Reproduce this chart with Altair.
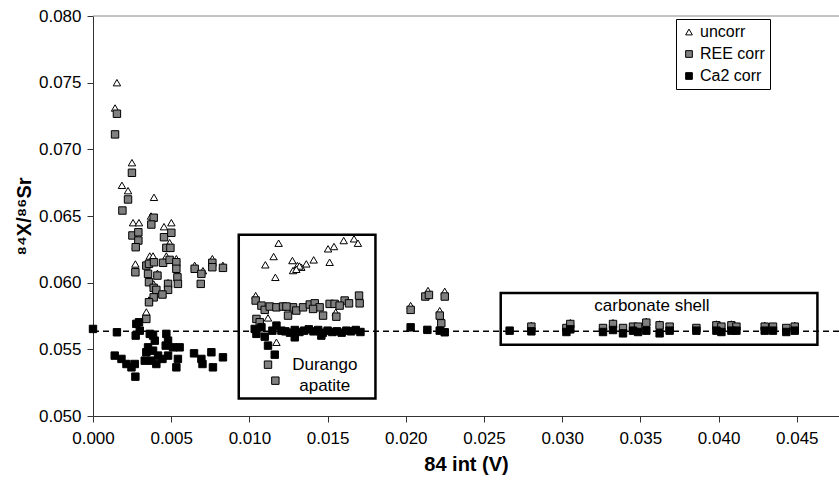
import altair as alt
import pandas as pd

# ---- data ----
unc_x = [0.00153, 0.00141, 0.00249, 0.00185, 0.00224, 0.00390, 0.00371, 0.00256, 0.00294, 0.00501,
         0.00454, 0.00490, 0.00271, 0.00341, 0.00363, 0.00384, 0.00650, 0.00763, 0.00831, 0.00703,
         0.00533, 0.00469, 0.00273, 0.00412, 0.00388, 0.00480, 0.00358, 0.00444,
         0.01102, 0.01155, 0.01187, 0.01166, 0.01275, 0.01279, 0.01307, 0.01332, 0.01364, 0.01411,
         0.01503, 0.01513, 0.01541, 0.01603, 0.01669, 0.01694, 0.01552, 0.01040, 0.01119, 0.01173,
         0.01320, 0.01300,
         0.02031, 0.02142, 0.02249, 0.02217,
         0.02803, 0.03052, 0.03325, 0.03538, 0.03623, 0.03986, 0.04082, 0.04295, 0.04487]
unc_y = [0.07500, 0.07310, 0.06900, 0.06730, 0.06690, 0.06640, 0.06500, 0.06450, 0.06450, 0.06450,
         0.06420, 0.06300, 0.06140, 0.05780, 0.06200, 0.06200, 0.06130, 0.06180, 0.06130, 0.06090,
         0.06180, 0.06200, 0.06280, 0.06070, 0.05990, 0.06000, 0.05870, 0.05920,
         0.06134, 0.06196, 0.06296, 0.06040, 0.06166, 0.06091, 0.06128, 0.06116, 0.06141, 0.06171,
         0.06254, 0.06153, 0.06271, 0.06316, 0.06329, 0.06296, 0.05778, 0.05903, 0.05736, 0.05553,
         0.06125, 0.06100,
         0.05828, 0.05941, 0.05935, 0.05790,
         0.05680, 0.05700, 0.05700, 0.05710, 0.05690, 0.05690, 0.05690, 0.05680, 0.05680]

ree_x = [0.00153, 0.00141, 0.00249, 0.00224, 0.00188, 0.00388, 0.00373, 0.00252, 0.00290, 0.00290,
         0.00454, 0.00501, 0.00273, 0.00469, 0.00495, 0.00271, 0.00341, 0.00358, 0.00390, 0.00448,
         0.00490, 0.00533, 0.00533, 0.00540, 0.00543, 0.00480, 0.00412, 0.00352, 0.00358, 0.00388,
         0.00405, 0.00480, 0.00444, 0.00388, 0.00358, 0.00341, 0.00650, 0.00693, 0.00689, 0.00763,
         0.00763, 0.00831,
         0.01040, 0.01077, 0.01098, 0.01130, 0.01173, 0.01215, 0.01247, 0.01279, 0.01300, 0.01343,
         0.01386, 0.01418, 0.01449, 0.01471, 0.01513, 0.01545, 0.01556, 0.01609, 0.01637, 0.01701,
         0.01705, 0.01045, 0.01066, 0.01119, 0.01166, 0.01577, 0.01407, 0.01237,
         0.02031, 0.02125, 0.02148, 0.02249, 0.02217, 0.02227,
         0.02803, 0.03027, 0.03052, 0.03261, 0.03325, 0.03389, 0.03453, 0.03485, 0.03538, 0.03623,
         0.03687, 0.03858, 0.03986, 0.04018, 0.04082, 0.04114, 0.04295, 0.04348, 0.04433, 0.04487]
ree_y = [0.07267, 0.07112, 0.06824, 0.06624, 0.06541, 0.06487, 0.06436, 0.06354, 0.06378, 0.06316,
         0.06341, 0.06374, 0.06266, 0.06261, 0.06261, 0.06078, 0.06128, 0.06141, 0.06153, 0.06149,
         0.06171, 0.06153, 0.06104, 0.06040, 0.05991, 0.05991, 0.06053, 0.06066, 0.06003, 0.05961,
         0.05946, 0.05946, 0.05911, 0.05890, 0.05853, 0.05728, 0.06104, 0.06066, 0.05991, 0.06149,
         0.06116, 0.06111,
         0.05866, 0.05828, 0.05796, 0.05821, 0.05815, 0.05821, 0.05753, 0.05815, 0.05791, 0.05815,
         0.05836, 0.05845, 0.05815, 0.05753, 0.05841, 0.05841, 0.05745, 0.05866, 0.05845, 0.05903,
         0.05845, 0.05728, 0.05703, 0.05385, 0.05265, 0.05828, 0.05803, 0.05821,
         0.05796, 0.05896, 0.05908, 0.05896, 0.05753, 0.05695,
         0.05670, 0.05660, 0.05690, 0.05660, 0.05690, 0.05660, 0.05670, 0.05670, 0.05700, 0.05680,
         0.05670, 0.05660, 0.05680, 0.05670, 0.05680, 0.05670, 0.05670, 0.05670, 0.05660, 0.05670]

ca_x = [0.00000, 0.00153, 0.00139, 0.00182, 0.00214, 0.00246, 0.00267, 0.00271, 0.00277, 0.00294,
        0.00273, 0.00299, 0.00363, 0.00384, 0.00395, 0.00352, 0.00341, 0.00331, 0.00373, 0.00405,
        0.00384, 0.00416, 0.00444, 0.00469, 0.00480, 0.00465, 0.00480, 0.00512, 0.00554, 0.00543,
        0.00533, 0.00646, 0.00693, 0.00700, 0.00757, 0.00767, 0.00831,
        0.01034, 0.01045, 0.01077, 0.01098, 0.01119, 0.01147, 0.01162, 0.01173, 0.01205,
        0.01230, 0.01260, 0.01290, 0.01320, 0.01350, 0.01380, 0.01410, 0.01440, 0.01470, 0.01500,
        0.01530, 0.01560, 0.01590, 0.01620, 0.01650, 0.01680, 0.01710, 0.01290, 0.01460,
        0.02031, 0.02138, 0.02217, 0.02249,
        0.02664, 0.02803, 0.03027, 0.03052, 0.03261, 0.03325, 0.03389, 0.03453, 0.03485, 0.03538,
        0.03623, 0.03687, 0.03858, 0.03986, 0.04018, 0.04082, 0.04114, 0.04295, 0.04348, 0.04433,
        0.04487]
ca_y = [0.05653, 0.05628, 0.05453, 0.05428, 0.05390, 0.05365, 0.05390, 0.05295, 0.05691, 0.05703,
        0.05603, 0.05640, 0.05616, 0.05603, 0.05565, 0.05515, 0.05478, 0.05415, 0.05415, 0.05390,
        0.05490, 0.05453, 0.05428, 0.05616, 0.05565, 0.05528, 0.05453, 0.05515, 0.05515, 0.05428,
        0.05365, 0.05470, 0.05428, 0.05390, 0.05478, 0.05365, 0.05440,
        0.05653, 0.05616, 0.05665, 0.05595, 0.05528, 0.05640, 0.05460, 0.05678, 0.05640,
        0.05635, 0.05625, 0.05645, 0.05630, 0.05640, 0.05650, 0.05635, 0.05645, 0.05625, 0.05640,
        0.05630, 0.05635, 0.05625, 0.05640, 0.05635, 0.05645, 0.05630, 0.05590, 0.05603,
        0.05665, 0.05646, 0.05640, 0.05628,
        0.05640, 0.05635, 0.05630, 0.05650, 0.05630, 0.05645, 0.05620, 0.05640, 0.05630, 0.05640,
        0.05620, 0.05640, 0.05640, 0.05640, 0.05630, 0.05640, 0.05640, 0.05640, 0.05640, 0.05630,
        0.05640]

series_names = ["uncorr", "REE corr", "Ca2 corr"]
series_fill = ["white", "#808080", "black"]
series_stroke = ["black", "black", "black"]
series_shape = ["triangle-up", "square", "square"]

ref_value = [0.05635]

box_x1 = [0.00932, 0.02607]
box_x2 = [0.01806, 0.04632]
box_y1 = [0.05132, 0.05535]
box_y2 = [0.06359, 0.05923]

note_text = ["Durango", "apatite", "carbonate shell"]
note_x = [0.01482, 0.01482, 0.03574]
note_y = [0.05383, 0.05227, 0.05828]

x_ticks = [0.0, 0.005, 0.010, 0.015, 0.020, 0.025, 0.030, 0.035, 0.040, 0.045]
y_ticks = [0.050, 0.055, 0.060, 0.065, 0.070, 0.075, 0.080]
x_domain = [0.0, 0.0477]
y_domain = [0.050, 0.080]

# ---- tables ----
pts = pd.concat([
    pd.DataFrame({"x": unc_x, "y": unc_y, "s": series_names[0], "o": 0}),
    pd.DataFrame({"x": ree_x, "y": ree_y, "s": series_names[1], "o": 1}),
    pd.DataFrame({"x": ca_x, "y": ca_y, "s": series_names[2], "o": 2}),
], ignore_index=True)
boxes = pd.DataFrame({"x1": box_x1, "x2": box_x2, "y1": box_y1, "y2": box_y2})
notes = pd.DataFrame({"t": note_text, "x": note_x, "y": note_y})
ref = pd.DataFrame({"y": ref_value})

FONT = "Liberation Sans"

xs = alt.Scale(domain=x_domain, nice=False, zero=False)
ys = alt.Scale(domain=y_domain, nice=False, zero=False)

top_line = alt.Chart(ref).mark_rule(color="#888888", strokeWidth=1).encode(y=alt.value(0))

dash = alt.Chart(ref).mark_rule(color="black", strokeWidth=1.5, strokeDash=[6, 4]).encode(
    y=alt.Y("y:Q", scale=ys)
)

points = alt.Chart(pts).mark_point(filled=True, strokeWidth=1, opacity=1).encode(
    x=alt.X("x:Q", scale=xs, axis=alt.Axis(values=x_ticks, format=".3f", title="84 int (V)",
                                           labelFlush=False)),
    y=alt.Y("y:Q", scale=ys, axis=alt.Axis(values=y_ticks, format=".3f", title="⁸⁴X/⁸⁶Sr",
                                           labelFlush=False)),
    fill=alt.Fill("s:N", scale=alt.Scale(domain=series_names, range=series_fill),
                  legend=alt.Legend(title=None)),
    stroke=alt.Stroke("s:N", scale=alt.Scale(domain=series_names, range=series_stroke),
                      legend=alt.Legend(title=None)),
    shape=alt.Shape("s:N", scale=alt.Scale(domain=series_names, range=series_shape),
                    legend=alt.Legend(title=None)),
    size=alt.value(55),
    order=alt.Order("o:Q"),
)

rects = alt.Chart(boxes).mark_rect(fillOpacity=0, stroke="black", strokeWidth=2.5).encode(
    x=alt.X("x1:Q", scale=xs), x2="x2:Q", y=alt.Y("y1:Q", scale=ys), y2="y2:Q"
)

texts = alt.Chart(notes).mark_text(font=FONT, fontSize=17, color="black", align="center",
                                   baseline="middle").encode(
    x=alt.X("x:Q", scale=xs), y=alt.Y("y:Q", scale=ys), text="t:N"
)

chart = alt.layer(top_line, dash, rects, points, texts).properties(
    width=746, height=400,
    padding={"left": 93, "top": 16, "right": 0, "bottom": 69},
    autosize=alt.AutoSizeParams(type="none"),
    background="white",
).configure_view(stroke=None).configure_axis(
    grid=False,
    domainColor="#333333",
    tickColor="#333333",
    tickSize=6,
    labelFont=FONT,
    labelFontSize=17,
    labelColor="black",
    titleFont=FONT,
    titleFontSize=20,
    titleFontWeight="bold",
    titleColor="black",
).configure_axisY(
    labelPadding=6, titlePadding=4
).configure_axisX(
    labelPadding=8, titlePadding=8
).configure_legend(
    orient="none", legendX=583, legendY=3,
    strokeColor="black", fillColor="white", padding=5,
    labelFont=FONT, labelFontSize=16, labelColor="black",
    symbolStrokeWidth=1, symbolSize=45,
    rowPadding=6, labelOffset=3, cornerRadius=0,
)

chart.save("out.html", embed_options={"renderer": "svg", "actions": False})
